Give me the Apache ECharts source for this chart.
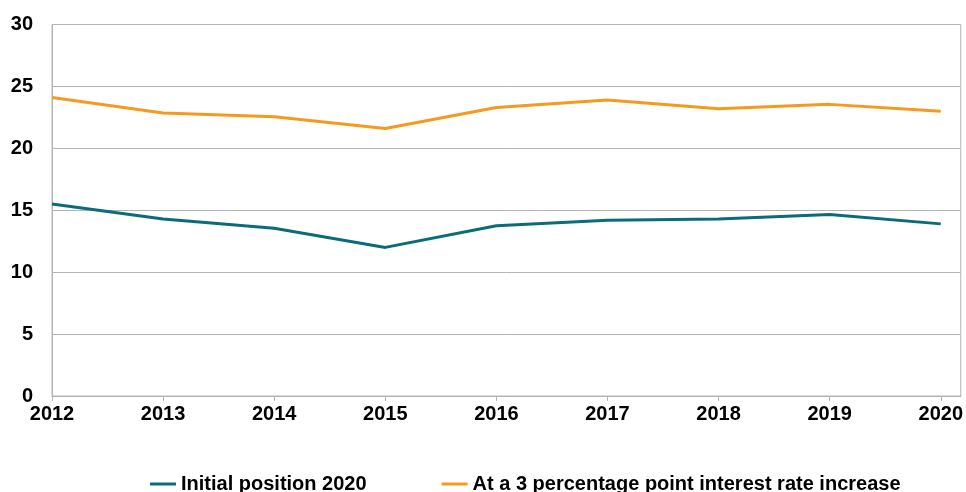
<!DOCTYPE html>
<html>
<head>
<meta charset="utf-8">
<script src="https://cdn.jsdelivr.net/npm/echarts@6/dist/echarts.min.js"></script>
<style>
  html, body { margin: 0; padding: 0; background: #fff; }
  #chart { width: 966px; height: 492px; }
</style>
</head>
<body>
<div id="chart"></div>
<script>
const years = [2012, 2013, 2014, 2015, 2016, 2017, 2018, 2019, 2020];
const initialPosition = [15.5, 14.3, 13.55, 12.0, 13.75, 14.2, 14.3, 14.65, 13.9];
const rateIncrease = [24.1, 22.85, 22.55, 21.6, 23.3, 23.9, 23.2, 23.55, 23.0];
const yTicks = [0, 5, 10, 15, 20, 25, 30];

const FONT = "'Liberation Sans', Arial, sans-serif";
const GRID_COLOR = "#b4b4b4";

const chart = echarts.init(document.getElementById("chart"), null, { renderer: "canvas" });

chart.setOption({
  animation: false,
  backgroundColor: "#fff",
  grid: {
    left: 52, right: 4, top: 24.5, bottom: 96,
    show: true, borderColor: GRID_COLOR, borderWidth: 1, backgroundColor: "transparent",
  },
  legend: {
    left: 145,
    top: 469,
    icon: "rect",
    itemWidth: 26,
    itemHeight: 3,
    itemGap: 75,
    textStyle: { fontFamily: FONT, fontSize: 20, fontWeight: "bold", color: "#000" },
    data: ["Initial position 2020", "At a 3 percentage point interest rate increase"],
  },
  xAxis: {
    type: "value",
    min: 2012,
    max: 2020.18,
    interval: 1,
    axisLine: { show: true, lineStyle: { color: GRID_COLOR } },
    axisTick: { show: true, length: 5, customValues: years, lineStyle: { color: GRID_COLOR } },
    axisLabel: {
      customValues: years,
      formatter: (v) => String(Math.round(v)),
      fontFamily: FONT, fontSize: 20, fontWeight: "bold", color: "#000", margin: 8,
    },
    splitLine: { show: false },
  },
  yAxis: {
    type: "value",
    min: yTicks[0],
    max: yTicks[yTicks.length - 1],
    interval: 5,
    axisLine: { show: true, lineStyle: { color: GRID_COLOR } },
    axisTick: { show: false },
    axisLabel: { fontFamily: FONT, fontSize: 20, fontWeight: "bold", color: "#000", margin: 19 },
    splitLine: { lineStyle: { color: GRID_COLOR } },
  },
  series: [
    {
      name: "Initial position 2020",
      type: "line",
      showSymbol: false,
      lineStyle: { width: 3, color: "#0b6b7a" },
      itemStyle: { color: "#0b6b7a" },
      data: years.map((y, i) => [y, initialPosition[i]]),
    },
    {
      name: "At a 3 percentage point interest rate increase",
      type: "line",
      showSymbol: false,
      lineStyle: { width: 3, color: "#f7991f" },
      itemStyle: { color: "#f7991f" },
      data: years.map((y, i) => [y, rateIncrease[i]]),
    },
  ],
});
</script>
</body>
</html>
